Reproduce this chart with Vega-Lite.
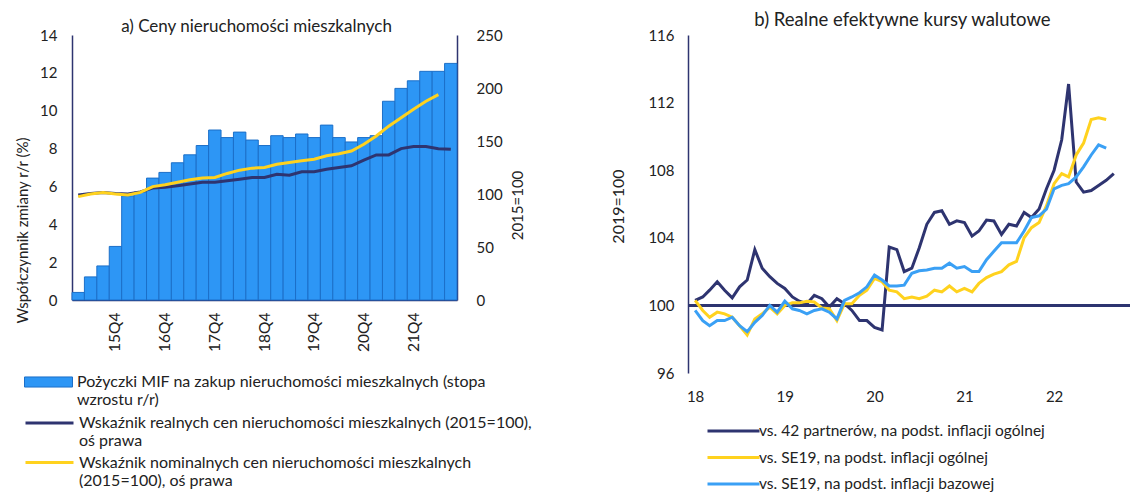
{
  "$schema": "https://vega.github.io/schema/vega-lite/v6.json",
  "background": "white",
  "padding": {"left": 15, "top": 11, "right": 0, "bottom": 0},
  "spacing": 78,
  "columns": 2,
  "align": "none",
  "config": {
    "font": "Lato",
    "view": {"stroke": null},
    "axis": {
      "grid": false,
      "ticks": false,
      "domainColor": "#2E3470",
      "domainWidth": 1.5,
      "labelColor": "#222222",
      "titleColor": "#222222",
      "labelFontSize": 15,
      "titleFontSize": 15,
      "titleFontWeight": "normal",
      "labelFont": "Lato",
      "titleFont": "Lato"
    },
    "legend": {"labelFont": "Lato", "labelColor": "#222222", "labelFontSize": 16},
    "title": {"font": "Lato", "fontWeight": "normal", "color": "#222222", "anchor": "middle"}
  },
  "resolve": {"scale": {"color": "independent", "fill": "independent", "stroke": "independent"}, "legend": {"color": "independent", "fill": "independent", "stroke": "independent"}},
  "concat": [
    {
      "width": 385,
      "height": 265,
      "title": {"text": "a) Ceny nieruchomości mieszkalnych", "fontSize": 17, "offset": -7.5, "dx": -8},
      "data": {
        "values": [
          {"kwartal": "15Q1", "pozyczki": 0.4, "realny": 99.0, "nominalny": 97.5},
          {"kwartal": "15Q2", "pozyczki": 1.22, "realny": 100.5, "nominalny": 100.0},
          {"kwartal": "15Q3", "pozyczki": 1.8, "realny": 101.5, "nominalny": 101.5},
          {"kwartal": "15Q4", "pozyczki": 2.83, "realny": 100.5, "nominalny": 100.0},
          {"kwartal": "16Q1", "pozyczki": 5.5, "realny": 100.0, "nominalny": 99.0},
          {"kwartal": "16Q2", "pozyczki": 5.7, "realny": 102.0, "nominalny": 101.5},
          {"kwartal": "16Q3", "pozyczki": 6.44, "realny": 105.6, "nominalny": 107.0},
          {"kwartal": "16Q4", "pozyczki": 6.74, "realny": 106.3, "nominalny": 108.7},
          {"kwartal": "17Q1", "pozyczki": 7.25, "realny": 107.8, "nominalny": 111.0},
          {"kwartal": "17Q2", "pozyczki": 7.67, "realny": 109.4, "nominalny": 113.4},
          {"kwartal": "17Q3", "pozyczki": 8.16, "realny": 111.0, "nominalny": 115.0},
          {"kwartal": "17Q4", "pozyczki": 8.98, "realny": 111.0, "nominalny": 115.6},
          {"kwartal": "18Q1", "pozyczki": 8.58, "realny": 112.5, "nominalny": 119.4},
          {"kwartal": "18Q2", "pozyczki": 8.87, "realny": 114.0, "nominalny": 122.5},
          {"kwartal": "18Q3", "pozyczki": 8.45, "realny": 115.6, "nominalny": 124.4},
          {"kwartal": "18Q4", "pozyczki": 8.16, "realny": 115.6, "nominalny": 125.0},
          {"kwartal": "19Q1", "pozyczki": 8.68, "realny": 118.7, "nominalny": 128.0},
          {"kwartal": "19Q2", "pozyczki": 8.58, "realny": 117.8, "nominalny": 129.7},
          {"kwartal": "19Q3", "pozyczki": 8.77, "realny": 121.0, "nominalny": 131.3},
          {"kwartal": "19Q4", "pozyczki": 8.58, "realny": 121.0, "nominalny": 132.8},
          {"kwartal": "20Q1", "pozyczki": 9.24, "realny": 123.4, "nominalny": 136.0},
          {"kwartal": "20Q2", "pozyczki": 8.58, "realny": 125.0, "nominalny": 138.0},
          {"kwartal": "20Q3", "pozyczki": 8.35, "realny": 126.6, "nominalny": 140.6},
          {"kwartal": "20Q4", "pozyczki": 8.58, "realny": 131.9, "nominalny": 146.9},
          {"kwartal": "21Q1", "pozyczki": 8.68, "realny": 136.9, "nominalny": 154.7},
          {"kwartal": "21Q2", "pozyczki": 10.5, "realny": 136.9, "nominalny": 164.0},
          {"kwartal": "21Q3", "pozyczki": 11.18, "realny": 142.8, "nominalny": 172.0},
          {"kwartal": "21Q4", "pozyczki": 11.58, "realny": 144.7, "nominalny": 180.0},
          {"kwartal": "22Q1", "pozyczki": 12.08, "realny": 144.7, "nominalny": 187.5},
          {"kwartal": "22Q2", "pozyczki": 12.08, "realny": 142.8, "nominalny": 193.8},
          {"kwartal": "22Q3", "pozyczki": 12.5, "realny": 142.2, "nominalny": null}
        ]
      },
      "resolve": {"scale": {"y": "independent"}},
      "layer": [
        {
          "mark": {"type": "bar", "stroke": "#1C6FC8", "strokeWidth": 1},
          "encoding": {
            "x": {
              "field": "kwartal", "type": "ordinal", "sort": null,
              "scale": {"paddingInner": 0, "paddingOuter": 0},
              "axis": {"title": null, "values": ["15Q4", "16Q4", "17Q4", "18Q4", "19Q4", "20Q4", "21Q4"], "labelAngle": -90, "labelPadding": 12, "labelFontSize": 15.5}
            },
            "y": {
              "field": "pozyczki", "type": "quantitative",
              "scale": {"domain": [0, 14], "nice": false},
              "axis": {"orient": "left", "values": [0, 2, 4, 6, 8, 10, 12, 14], "title": "Współczynnik zmiany r/r (%)", "titleX": -50, "titleY": 195, "titleAngle": -90, "titleBaseline": "middle", "titleAlign": "center", "labelPadding": 15}
            },
            "fill": {
              "datum": "Pożyczki MIF na zakup nieruchomości mieszkalnych (stopa wzrostu r/r)",
              "scale": {"range": ["#2D96F5"]},
              "legend": {
                "orient": "none", "legendX": -48, "legendY": 340, "direction": "vertical",
                "title": null, "symbolType": "M-1,-0.21H1V0.21H-1Z", "symbolSize": 2304,
                "symbolStrokeColor": "#1C6FC8", "symbolStrokeWidth": 1, "symbolOpacity": 1,
                "clipHeight": 14, "labelOffset": 4, "labelBaseline": "middle", "labelLimit": 0,
                "labelExpr": "['Pożyczki MIF na zakup nieruchomości mieszkalnych (stopa', 'wzrostu r/r)']",
                "encode": {"labels": {"lineHeight": {"value": 19}}}
              }
            }
          }
        },
        {
          "layer": [
            {
              "mark": {"type": "line", "strokeWidth": 3},
              "encoding": {
                "x": {
                  "field": "kwartal", "type": "ordinal", "sort": null,
                  "scale": {"paddingInner": 0, "paddingOuter": 0},
                  "axis": {"title": null, "values": ["15Q4", "16Q4", "17Q4", "18Q4", "19Q4", "20Q4", "21Q4"], "labelAngle": -90, "labelPadding": 12, "labelFontSize": 15.5}
                },
                "y": {
                  "field": "realny", "type": "quantitative",
                  "scale": {"domain": [0, 250], "nice": false},
                  "axis": {"orient": "right", "values": [0, 50, 100, 150, 200, 250], "title": "2015=100", "titleX": 60, "titleY": 170, "titleAngle": -90, "titleBaseline": "middle", "titleAlign": "center", "labelPadding": 19}
                },
                "stroke": {
                  "datum": "Wskaźnik realnych cen nieruchomości mieszkalnych (2015=100), oś prawa",
                  "scale": {
                    "domain": [
                      "Wskaźnik realnych cen nieruchomości mieszkalnych (2015=100), oś prawa",
                      "Wskaźnik nominalnych cen nieruchomości mieszkalnych (2015=100), oś prawa"
                    ],
                    "range": ["#2E3470", "#FFD21E"]
                  },
                  "legend": {
                    "orient": "none", "legendX": -48, "legendY": 381, "direction": "vertical",
                    "title": null, "symbolType": "stroke", "symbolSize": 2304, "symbolStrokeWidth": 3,
                    "clipHeight": 14, "rowPadding": 5.5, "labelOffset": 4, "labelBaseline": "middle", "labelLimit": 0,
                    "labelExpr": "indexof(datum.value, 'realnych') > 0 ? ['Wskaźnik realnych cen nieruchomości mieszkalnych (2015=100),', 'oś prawa'] : ['Wskaźnik nominalnych cen nieruchomości mieszkalnych', '(2015=100), oś prawa']",
                    "encode": {"labels": {"lineHeight": {"value": 19}}}
                  }
                }
              }
            },
            {
              "mark": {"type": "line", "strokeWidth": 3},
              "encoding": {
                "x": {
                  "field": "kwartal", "type": "ordinal", "sort": null,
                  "scale": {"paddingInner": 0, "paddingOuter": 0},
                  "axis": {"title": null, "values": ["15Q4", "16Q4", "17Q4", "18Q4", "19Q4", "20Q4", "21Q4"], "labelAngle": -90, "labelPadding": 12, "labelFontSize": 15.5}
                },
                "y": {
                  "field": "nominalny", "type": "quantitative",
                  "scale": {"domain": [0, 250], "nice": false},
                  "axis": {"orient": "right", "values": [0, 50, 100, 150, 200, 250], "title": "2015=100", "titleX": 60, "titleY": 170, "titleAngle": -90, "titleBaseline": "middle", "titleAlign": "center", "labelPadding": 19}
                },
                "stroke": {"datum": "Wskaźnik nominalnych cen nieruchomości mieszkalnych (2015=100), oś prawa"}
              }
            }
          ]
        }
      ]
    },
    {
      "width": 443,
      "height": 338,
      "title": {"text": "b) Realne efektywne kursy walutowe", "fontSize": 18.5, "offset": -1.5, "dx": -7},
      "data": {
        "values": [
          {"miesiac": "2018-01-01", "ogolna42": 100.3, "se19_ogolna": 100.3, "se19_bazowa": 99.7},
          {"miesiac": "2018-02-01", "ogolna42": 100.5, "se19_ogolna": 99.7, "se19_bazowa": 99.1},
          {"miesiac": "2018-03-01", "ogolna42": 100.9, "se19_ogolna": 99.3, "se19_bazowa": 98.8},
          {"miesiac": "2018-04-01", "ogolna42": 101.4, "se19_ogolna": 99.6, "se19_bazowa": 99.1},
          {"miesiac": "2018-05-01", "ogolna42": 100.9, "se19_ogolna": 99.5, "se19_bazowa": 99.1},
          {"miesiac": "2018-06-01", "ogolna42": 100.45, "se19_ogolna": 99.3, "se19_bazowa": 99.3},
          {"miesiac": "2018-07-01", "ogolna42": 101.1, "se19_ogolna": 98.8, "se19_bazowa": 98.8},
          {"miesiac": "2018-08-01", "ogolna42": 101.5, "se19_ogolna": 98.25, "se19_bazowa": 98.45},
          {"miesiac": "2018-09-01", "ogolna42": 103.3, "se19_ogolna": 99.2, "se19_bazowa": 99.0},
          {"miesiac": "2018-10-01", "ogolna42": 102.2, "se19_ogolna": 99.5, "se19_bazowa": 99.4},
          {"miesiac": "2018-11-01", "ogolna42": 101.7, "se19_ogolna": 99.9, "se19_bazowa": 100.0},
          {"miesiac": "2018-12-01", "ogolna42": 101.3, "se19_ogolna": 99.5, "se19_bazowa": 99.6},
          {"miesiac": "2019-01-01", "ogolna42": 101.0, "se19_ogolna": 100.0, "se19_bazowa": 100.25},
          {"miesiac": "2019-02-01", "ogolna42": 100.5, "se19_ogolna": 100.15, "se19_bazowa": 99.8},
          {"miesiac": "2019-03-01", "ogolna42": 100.25, "se19_ogolna": 100.15, "se19_bazowa": 99.7},
          {"miesiac": "2019-04-01", "ogolna42": 100.1, "se19_ogolna": 100.25, "se19_bazowa": 99.5},
          {"miesiac": "2019-05-01", "ogolna42": 100.6, "se19_ogolna": 100.2, "se19_bazowa": 99.7},
          {"miesiac": "2019-06-01", "ogolna42": 100.4, "se19_ogolna": 99.85, "se19_bazowa": 99.8},
          {"miesiac": "2019-07-01", "ogolna42": 99.9, "se19_ogolna": 99.8, "se19_bazowa": 99.6},
          {"miesiac": "2019-08-01", "ogolna42": 100.4, "se19_ogolna": 99.1, "se19_bazowa": 99.2},
          {"miesiac": "2019-09-01", "ogolna42": 100.1, "se19_ogolna": 100.1, "se19_bazowa": 100.3},
          {"miesiac": "2019-10-01", "ogolna42": 99.7, "se19_ogolna": 100.1, "se19_bazowa": 100.5},
          {"miesiac": "2019-11-01", "ogolna42": 99.1, "se19_ogolna": 100.6, "se19_bazowa": 100.75},
          {"miesiac": "2019-12-01", "ogolna42": 99.1, "se19_ogolna": 100.9, "se19_bazowa": 101.1},
          {"miesiac": "2020-01-01", "ogolna42": 98.7, "se19_ogolna": 101.6, "se19_bazowa": 101.8},
          {"miesiac": "2020-02-01", "ogolna42": 98.55, "se19_ogolna": 101.4, "se19_bazowa": 101.5},
          {"miesiac": "2020-03-01", "ogolna42": 103.45, "se19_ogolna": 100.9, "se19_bazowa": 101.15},
          {"miesiac": "2020-04-01", "ogolna42": 103.3, "se19_ogolna": 100.8, "se19_bazowa": 101.15},
          {"miesiac": "2020-05-01", "ogolna42": 102.0, "se19_ogolna": 100.4, "se19_bazowa": 101.2},
          {"miesiac": "2020-06-01", "ogolna42": 102.2, "se19_ogolna": 100.5, "se19_bazowa": 101.9},
          {"miesiac": "2020-07-01", "ogolna42": 103.4, "se19_ogolna": 100.4, "se19_bazowa": 102.05},
          {"miesiac": "2020-08-01", "ogolna42": 104.8, "se19_ogolna": 100.55, "se19_bazowa": 102.1},
          {"miesiac": "2020-09-01", "ogolna42": 105.5, "se19_ogolna": 100.9, "se19_bazowa": 102.2},
          {"miesiac": "2020-10-01", "ogolna42": 105.6, "se19_ogolna": 100.8, "se19_bazowa": 102.2},
          {"miesiac": "2020-11-01", "ogolna42": 104.8, "se19_ogolna": 101.15, "se19_bazowa": 102.5},
          {"miesiac": "2020-12-01", "ogolna42": 105.0, "se19_ogolna": 100.8, "se19_bazowa": 102.2},
          {"miesiac": "2021-01-01", "ogolna42": 104.9, "se19_ogolna": 101.0, "se19_bazowa": 102.3},
          {"miesiac": "2021-02-01", "ogolna42": 104.1, "se19_ogolna": 100.8, "se19_bazowa": 102.0},
          {"miesiac": "2021-03-01", "ogolna42": 104.4, "se19_ogolna": 101.3, "se19_bazowa": 102.0},
          {"miesiac": "2021-04-01", "ogolna42": 105.05, "se19_ogolna": 101.65, "se19_bazowa": 102.7},
          {"miesiac": "2021-05-01", "ogolna42": 105.0, "se19_ogolna": 101.85, "se19_bazowa": 103.2},
          {"miesiac": "2021-06-01", "ogolna42": 104.2, "se19_ogolna": 102.0, "se19_bazowa": 103.7},
          {"miesiac": "2021-07-01", "ogolna42": 104.8, "se19_ogolna": 102.4, "se19_bazowa": 103.7},
          {"miesiac": "2021-08-01", "ogolna42": 104.7, "se19_ogolna": 102.6, "se19_bazowa": 103.7},
          {"miesiac": "2021-09-01", "ogolna42": 105.5, "se19_ogolna": 104.0, "se19_bazowa": 104.4},
          {"miesiac": "2021-10-01", "ogolna42": 105.2, "se19_ogolna": 104.6, "se19_bazowa": 105.2},
          {"miesiac": "2021-11-01", "ogolna42": 105.7, "se19_ogolna": 104.9, "se19_bazowa": 105.3},
          {"miesiac": "2021-12-01", "ogolna42": 106.9, "se19_ogolna": 105.9, "se19_bazowa": 105.7},
          {"miesiac": "2022-01-01", "ogolna42": 108.0, "se19_ogolna": 107.2, "se19_bazowa": 106.9},
          {"miesiac": "2022-02-01", "ogolna42": 109.8, "se19_ogolna": 107.8, "se19_bazowa": 107.1},
          {"miesiac": "2022-03-01", "ogolna42": 113.1, "se19_ogolna": 107.6, "se19_bazowa": 107.2},
          {"miesiac": "2022-04-01", "ogolna42": 107.3, "se19_ogolna": 108.9, "se19_bazowa": 107.6},
          {"miesiac": "2022-05-01", "ogolna42": 106.7, "se19_ogolna": 109.6, "se19_bazowa": 108.2},
          {"miesiac": "2022-06-01", "ogolna42": 106.8, "se19_ogolna": 111.0, "se19_bazowa": 108.9},
          {"miesiac": "2022-07-01", "ogolna42": 107.1, "se19_ogolna": 111.1, "se19_bazowa": 109.5},
          {"miesiac": "2022-08-01", "ogolna42": 107.4, "se19_ogolna": 111.0, "se19_bazowa": 109.3},
          {"miesiac": "2022-09-01", "ogolna42": 107.8, "se19_ogolna": null, "se19_bazowa": null}
        ]
      },
      "layer": [
        {
          "mark": {"type": "rule", "color": "#2E3470", "strokeWidth": 1.5},
          "encoding": {"y": {"datum": 100, "type": "quantitative"}}
        },
        {
          "mark": {"type": "line", "strokeWidth": 3},
          "encoding": {
            "x": {
              "field": "miesiac", "type": "temporal",
              "scale": {"type": "utc", "domain": [{"year": 2017, "month": 12, "date": 3, "utc": true}, {"year": 2022, "month": 11, "date": 10, "utc": true}]},
              "axis": {"title": null, "domain": false, "format": "%y", "labelPadding": 16, "labelFontSize": 15,
                "values": [{"year": 2018, "month": 1, "date": 1, "utc": true}, {"year": 2019, "month": 1, "date": 1, "utc": true}, {"year": 2020, "month": 1, "date": 1, "utc": true}, {"year": 2021, "month": 1, "date": 1, "utc": true}, {"year": 2022, "month": 1, "date": 1, "utc": true}]}
            },
            "y": {
              "field": "ogolna42", "type": "quantitative",
              "scale": {"domain": [96, 116], "nice": false, "zero": false},
              "axis": {"values": [96, 100, 104, 108, 112, 116], "title": "2019=100", "titleFontSize": 16, "titleX": -70, "titleY": 171, "titleAngle": -90, "titleBaseline": "middle", "titleAlign": "center", "labelPadding": 14}
            },
            "color": {
              "datum": "vs. 42 partnerów, na podst. inflacji ogólnej",
              "scale": {
                "domain": ["vs. 42 partnerów, na podst. inflacji ogólnej", "vs. SE19, na podst. inflacji ogólnej", "vs. SE19, na podst. inflacji bazowej"],
                "range": ["#2E3470", "#FFD21E", "#3AA0F5"]
              },
              "legend": {
                "orient": "none", "legendX": 18, "legendY": 389, "direction": "vertical",
                "title": null, "symbolType": "stroke", "symbolSize": 2704, "symbolStrokeWidth": 3,
                "clipHeight": 14, "rowPadding": 10.5, "labelOffset": -2, "labelLimit": 0, "labelFontSize": 15.5
              }
            }
          }
        },
        {
          "mark": {"type": "line", "strokeWidth": 3},
          "encoding": {
            "x": {
              "field": "miesiac", "type": "temporal",
              "scale": {"type": "utc", "domain": [{"year": 2017, "month": 12, "date": 3, "utc": true}, {"year": 2022, "month": 11, "date": 10, "utc": true}]},
              "axis": {"title": null, "domain": false, "format": "%y", "labelPadding": 16, "labelFontSize": 15,
                "values": [{"year": 2018, "month": 1, "date": 1, "utc": true}, {"year": 2019, "month": 1, "date": 1, "utc": true}, {"year": 2020, "month": 1, "date": 1, "utc": true}, {"year": 2021, "month": 1, "date": 1, "utc": true}, {"year": 2022, "month": 1, "date": 1, "utc": true}]}
            },
            "y": {
              "field": "se19_ogolna", "type": "quantitative",
              "scale": {"domain": [96, 116], "nice": false, "zero": false},
              "axis": {"values": [96, 100, 104, 108, 112, 116], "title": "2019=100", "titleFontSize": 16, "titleX": -70, "titleY": 171, "titleAngle": -90, "titleBaseline": "middle", "titleAlign": "center", "labelPadding": 14}
            },
            "color": {"datum": "vs. SE19, na podst. inflacji ogólnej"}
          }
        },
        {
          "mark": {"type": "line", "strokeWidth": 3},
          "encoding": {
            "x": {
              "field": "miesiac", "type": "temporal",
              "scale": {"type": "utc", "domain": [{"year": 2017, "month": 12, "date": 3, "utc": true}, {"year": 2022, "month": 11, "date": 10, "utc": true}]},
              "axis": {"title": null, "domain": false, "format": "%y", "labelPadding": 16, "labelFontSize": 15,
                "values": [{"year": 2018, "month": 1, "date": 1, "utc": true}, {"year": 2019, "month": 1, "date": 1, "utc": true}, {"year": 2020, "month": 1, "date": 1, "utc": true}, {"year": 2021, "month": 1, "date": 1, "utc": true}, {"year": 2022, "month": 1, "date": 1, "utc": true}]}
            },
            "y": {
              "field": "se19_bazowa", "type": "quantitative",
              "scale": {"domain": [96, 116], "nice": false, "zero": false},
              "axis": {"values": [96, 100, 104, 108, 112, 116], "title": "2019=100", "titleFontSize": 16, "titleX": -70, "titleY": 171, "titleAngle": -90, "titleBaseline": "middle", "titleAlign": "center", "labelPadding": 14}
            },
            "color": {"datum": "vs. SE19, na podst. inflacji bazowej"}
          }
        }
      ]
    }
  ]
}
